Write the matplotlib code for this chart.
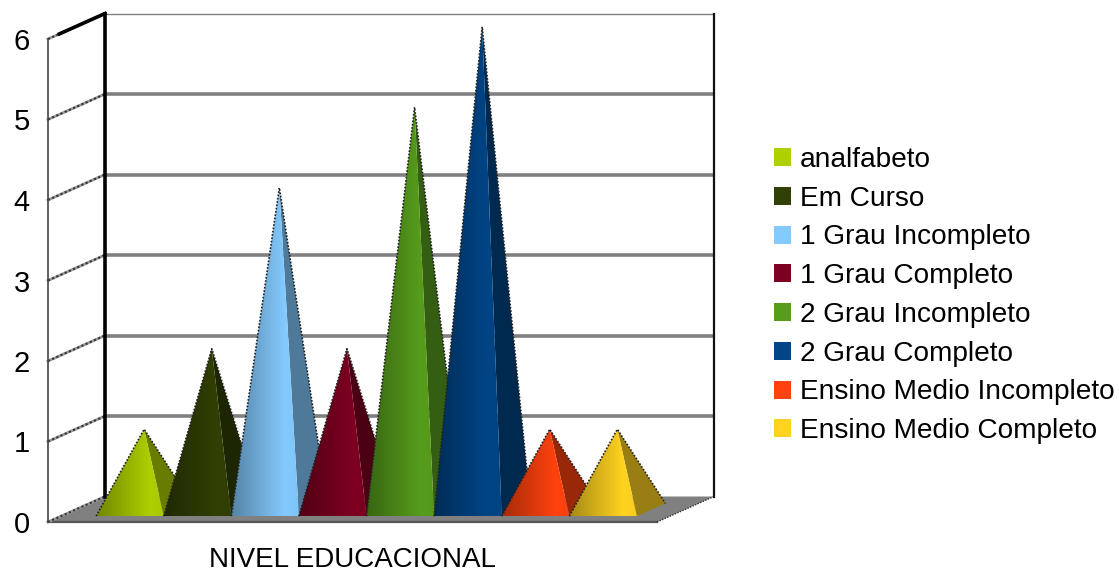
import numpy as np
import matplotlib
matplotlib.use('Agg')
import matplotlib.pyplot as plt
from matplotlib.colors import to_rgb
from matplotlib.patches import Patch, Polygon

categories = ["analfabeto", "Em Curso", "1 Grau Incompleto", "1 Grau Completo",
              "2 Grau Incompleto", "2 Grau Completo", "Ensino Medio Incompleto",
              "Ensino Medio Completo"]
values = [1, 2, 4, 2, 5, 6, 1, 1]
colors = ["#aecf00", "#314004", "#83caff", "#7e0021",
          "#579d1c", "#004586", "#ff420e", "#ffd320"]
y_ticks = [0, 1, 2, 3, 4, 5, 6]

plt.rcParams['font.family'] = ['Liberation Sans', 'DejaVu Sans']

W, H = 1119, 572
fig = plt.figure(figsize=(W / 100, H / 100), dpi=100)
ax = fig.add_axes([48 / W, (H - 522) / H, 609 / W, 512 / H])

# one category is 67.6 px wide, one value unit 80.5 px high
x_left = -0.5 - 35 / 67.6
x_right = x_left + 609 / 67.6
depth_x = 57 / 67.6
depth_y = 25.5 / 80.5
ax.set_xlim(x_left, x_right)
ax.set_ylim(0, 512 / 80.5)

# floor
ax.add_patch(Polygon([(x_left, 0), (x_right, 0), (x_right + depth_x, depth_y),
                      (x_left + depth_x, depth_y)], fc="#808080", ec="none", zorder=1,
                     clip_on=False))
ax.plot([x_left, x_right], [0, 0], color="#555555", lw=1.6, clip_on=False, zorder=2)
ax.plot([x_right, x_right + depth_x], [0, depth_y], color="#333333", lw=1.0,
        ls=(0, (1, 1)), clip_on=False, zorder=2)

# back wall and grid
for v in y_ticks:
    lw = 1.0 if v == 6 else 2.6
    if v > 0:
        ax.plot([x_left + depth_x, x_right + depth_x], [v + depth_y, v + depth_y],
                color="#808080", lw=lw, clip_on=False, zorder=1, solid_capstyle='butt')
    ax.plot([x_left, x_left + depth_x], [v, v + depth_y], color="#999999", lw=2.0,
            clip_on=False, zorder=2)
    ax.plot([x_left, x_left + depth_x], [v, v + depth_y], color="#333333", lw=1.5,
            ls=(0, (1, 1.2)), clip_on=False, zorder=2)
ax.plot([x_left + 0.2 * depth_x, x_left + depth_x], [6 + 0.2 * depth_y, 6 + depth_y],
        color="black", lw=2.6, clip_on=False, zorder=2)
ax.plot([x_left + depth_x] * 2, [depth_y, 6 + depth_y], color="black", lw=2.6,
        clip_on=False, zorder=2)
ax.plot([x_right + depth_x] * 2, [depth_y, 6 + depth_y], color="#111111", lw=1.6,
        clip_on=False, zorder=2)

# pyramids, each one overlapping the one before it
d_front = 0.23
d_back = 0.73
for i, (val, col) in enumerate(zip(values, colors)):
    rgb = np.array(to_rgb(col))
    x0 = i - 0.5 + d_front * depth_x
    x1 = i + 0.5 + d_front * depth_x
    y0 = d_front * depth_y
    x2 = i + 0.5 + d_back * depth_x
    y2 = d_back * depth_y
    d_mid = (d_front + d_back) / 2
    apex = (i + d_mid * depth_x, val + d_mid * depth_y)
    z = 3 + i

    ax.add_patch(Polygon([(x1, y0), (x2, y2), apex], fc=rgb * 0.6, ec="none", zorder=z,
                         clip_on=False))

    # front face shading runs dark to bright, left to right
    shade = np.interp(np.linspace(0, 1, 64), [0, 0.8, 1], [0.65, 1.0, 0.97])
    img = (rgb[None, :] * shade[:, None])[None, :, :]
    tri = Polygon([(x0, y0), (x1, y0), apex], fc="none", ec="none",
                  transform=ax.transData, zorder=z)
    ax.add_patch(tri)
    im = ax.imshow(img, extent=[x0, x1, y0, apex[1]], aspect='auto', zorder=z,
                   interpolation='bilinear')
    im.set_clip_path(tri)

    # stepped dark outline along the silhouette
    ax.plot([x0, apex[0], x2], [y0, apex[1], y2], color="#222222", lw=1.2,
            ls=(0, (1, 1)), zorder=z, clip_on=False)

ax.set_xlim(x_left, x_right)
ax.set_ylim(0, 512 / 80.5)

for name in ["top", "right", "bottom"]:
    ax.spines[name].set_visible(False)
ax.spines["left"].set_bounds(0, 6)
ax.spines["left"].set_color("#444444")
ax.spines["left"].set_linewidth(1.2)
ax.patch.set_visible(False)

ax.set_xticks([])
ax.set_yticks(y_ticks)
ax.tick_params(axis='y', length=0, pad=13, labelsize=21)
fig.text(352 / W, 1 - 560 / H, "NIVEL EDUCACIONAL", fontsize=20, ha='center', va='center')

handles = [Patch(fc=c, ec="none") for c in colors]
fig.legend(handles, categories, loc='upper left', bbox_to_anchor=(774 / W, 1 - 147 / H),
           frameon=False, fontsize=20.15, handlelength=0.61, handleheight=0.61,
           handletextpad=0.32, labelspacing=0.455, borderpad=0, borderaxespad=0)

plt.savefig("out.png", dpi=100)
plt.close()
